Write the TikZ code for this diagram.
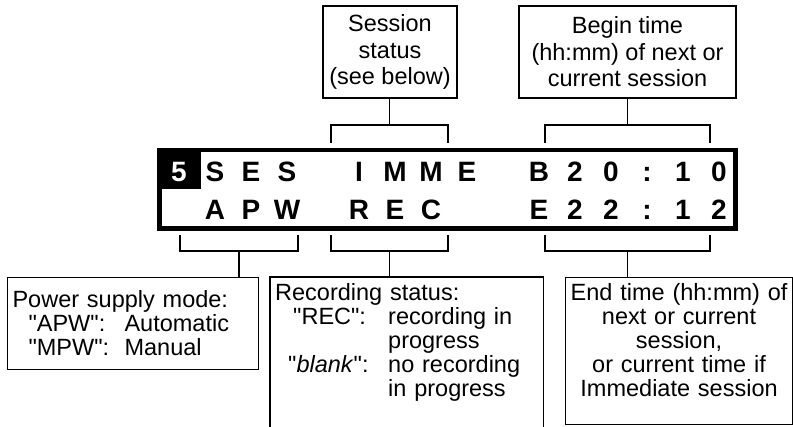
\documentclass[tikz,border=0pt]{standalone}
\usepackage{fontspec}
\setmainfont{Liberation Sans}[Ligatures=TeXOff]
\begin{document}
\begin{tikzpicture}[x=1pt,y=-1pt,
  wire/.style={line width=1.1pt},
  labelbox/.style={draw, line width=1.1pt, inner xsep=5pt, inner ysep=0pt,
    font=\fontsize{23.5}{24}\selectfont},
  lcdchar/.style={anchor=base, inner sep=0pt, font=\fontsize{28}{28}\selectfont\bfseries}]
\clip (0,0) rectangle (793,426);

% upper labels
\node[labelbox, minimum width=134pt, minimum height=92pt, align=center,
  font=\fontsize{23.5}{26.5}\selectfont] (sess) at (390,52)
  {Session\\status\\(see below)};
\node[labelbox, minimum width=217pt, minimum height=92pt, align=center,
  font=\fontsize{23.5}{26.5}\selectfont] (btime) at (627.5,52)
  {Begin time\\(hh:mm) of next or\\current session};

% two-line display
\node[draw, line width=4.5pt, minimum width=576pt, minimum height=78.5pt, inner sep=0pt] (lcd) at (447.5,189.25) {};
\node[fill=black, inner sep=0pt, minimum width=44pt, minimum height=41pt, anchor=north west] (cell) at (157,148) {};
\node[lcdchar, text=white] (num) at (179,181) {5};
\foreach \c/\k [count=\i] in {S/1,E/2,S/3,I/5,M/6,M/7,E/8,B/10,2/11,0/12,:/13,1/14,0/15}
  \node[lcdchar] (ra\i) at (179+36*\k,181) {\c};
\foreach \c/\k [count=\i] in {A/1,P/2,W/3,R/5,E/6,C/7,E/10,2/11,2/12,:/13,1/14,2/15}
  \node[lcdchar] (rb\i) at (179+36*\k,219) {\c};

% brackets above the display
\coordinate (sL) at (331,143); \coordinate (sM) at (389.5,125); \coordinate (sR) at (448,143);
\draw[wire] (sL) |- (sM) -| (sR);
\draw[wire] (sM) -- (sM |- sess.south);
\coordinate (bL) at (545,143); \coordinate (bM) at (627.5,125); \coordinate (bR) at (710,143);
\draw[wire] (bL) |- (bM) -| (bR);
\draw[wire] (bM) -- (bM |- btime.south);

% lower labels
\node[labelbox, anchor=north west, text width=241pt, minimum height=92pt, align=left] (pwr) at (7,277)
  {Power supply mode:\\
   \hspace*{16pt}\makebox[96pt][l]{"APW":}Automatic\\
   \hspace*{16pt}\makebox[96pt][l]{"MPW":}Manual};

\node[anchor=north west, text width=263pt, inner xsep=5pt, inner ysep=6pt, align=left,
  font=\fontsize{23.5}{24}\selectfont] (rec) at (270,277)
  {Recording status:\\
   \hspace*{18pt}\makebox[95pt][l]{"REC":}recording in\\
   \hspace*{113pt}progress\\
   \hspace*{13pt}\makebox[100pt][l]{"\textit{blank}":}no recording\\
   \hspace*{113pt}in progress};
\draw[wire] ([yshift=-200pt]rec.north west) -- (rec.north west) -- (rec.north east) -- ([yshift=-200pt]rec.north east);

\node[labelbox, anchor=north west, text width=217pt, inner ysep=6pt, text height=17pt, text depth=118pt, align=center] (etime) at (565,277)
  {End time (hh:mm) of\\next or current\\session,\\or current time if\\Immediate session};

% brackets below the display
\coordinate (pL) at (180,235); \coordinate (pM) at (239,251); \coordinate (pR) at (298,235);
\draw[wire] (pL) |- (pM) -| (pR);
\draw[wire] (pM) -- (pM |- pwr.north);
\coordinate (rL) at (331,235); \coordinate (rM) at (389.5,251); \coordinate (rR) at (448,235);
\draw[wire] (rL) |- (rM) -| (rR);
\draw[wire] (rM) -- (rM |- rec.north);
\coordinate (eL) at (545,235); \coordinate (eM) at (627.5,251); \coordinate (eR) at (710,235);
\draw[wire] (eL) |- (eM) -| (eR);
\draw[wire] (eM) -- (eM |- etime.north);
\end{tikzpicture}
\end{document}
